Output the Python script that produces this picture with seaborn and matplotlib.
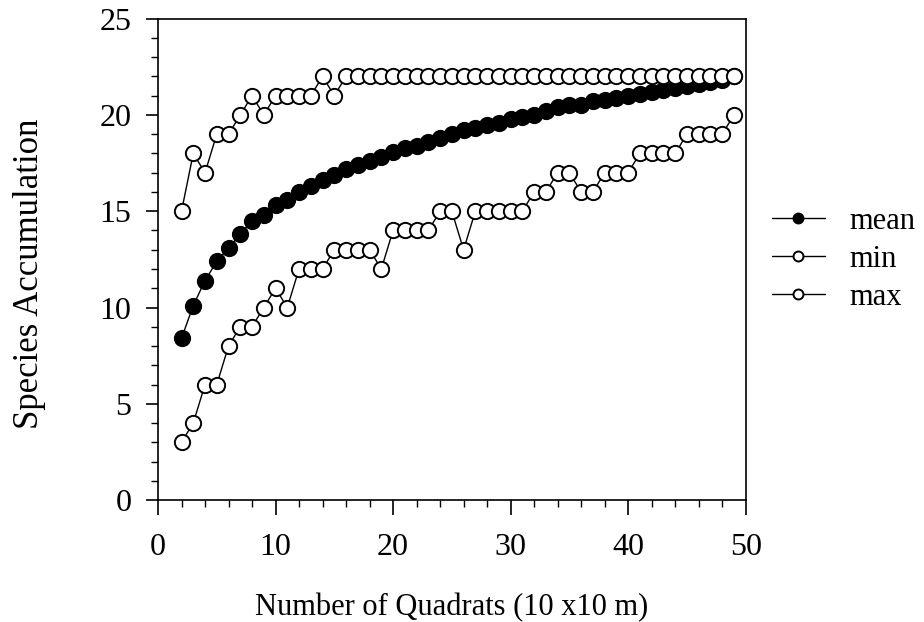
import numpy as np
import pandas as pd
import seaborn as sns
import matplotlib.pyplot as plt
from matplotlib.ticker import MultipleLocator

# number of quadrats sampled
quadrats = list(range(2, 50))

mean_acc = [8.4, 10.1, 11.4, 12.4, 13.1, 13.8, 14.5, 14.8, 15.3, 15.6,
            16.0, 16.3, 16.6, 16.9, 17.2, 17.4, 17.6, 17.8, 18.1, 18.3,
            18.4, 18.6, 18.8, 19.0, 19.2, 19.3, 19.5, 19.6, 19.8, 19.9,
            20.0, 20.2, 20.4, 20.5, 20.5, 20.7, 20.8, 20.9, 21.0, 21.1,
            21.2, 21.3, 21.4, 21.5, 21.6, 21.7, 21.8, 22.0]

min_acc = [3, 4, 6, 6, 8, 9, 9, 10, 11, 10,
           12, 12, 12, 13, 13, 13, 13, 12, 14, 14,
           14, 14, 15, 15, 13, 15, 15, 15, 15, 15,
           16, 16, 17, 17, 16, 16, 17, 17, 17, 18,
           18, 18, 18, 19, 19, 19, 19, 20]

max_acc = [15, 18, 17, 19, 19, 20, 21, 20, 21, 21,
           21, 21, 22, 21, 22, 22, 22, 22, 22, 22,
           22, 22, 22, 22, 22, 22, 22, 22, 22, 22,
           22, 22, 22, 22, 22, 22, 22, 22, 22, 22,
           22, 22, 22, 22, 22, 22, 22, 22]

df = pd.DataFrame({'n': quadrats * 3,
                   'species': mean_acc + min_acc + max_acc,
                   'stat': ['mean'] * 48 + ['min'] * 48 + ['max'] * 48})

sns.set_style("ticks")
plt.rcParams['font.family'] = ['Liberation Serif', 'DejaVu Serif']
plt.rcParams['text.color'] = 'black'
plt.rcParams['axes.labelcolor'] = 'black'

fig = plt.figure(figsize=(9.24, 6.22), dpi=100)
ax = fig.add_axes([0.171, 0.196, 0.636, 0.774])

faces = {'mean': 'black', 'min': 'white', 'max': 'white'}
for stat in ['mean', 'min', 'max']:
    sub = df[df['stat'] == stat]
    sns.lineplot(data=sub, x='n', y='species', ax=ax, color='black',
                 linewidth=1.0, marker='o', markersize=11,
                 markerfacecolor=faces[stat], markeredgecolor='black',
                 markeredgewidth=1.4, label=stat)

ax.set_xlim(0, 50)
ax.set_ylim(0, 25)
ax.xaxis.set_major_locator(MultipleLocator(10))
ax.xaxis.set_minor_locator(MultipleLocator(2))
ax.yaxis.set_major_locator(MultipleLocator(5))
ax.yaxis.set_minor_locator(MultipleLocator(1))
ax.tick_params(which='major', direction='out', width=1.2,
               labelsize=23, colors='black')
ax.tick_params(axis='x', which='major', length=11, pad=13)
ax.tick_params(axis='y', which='major', length=9, pad=10)
ax.tick_params(which='minor', direction='out', length=5, width=1.0,
               colors='black')
for s in ax.spines.values():
    s.set_visible(True)
    s.set_linewidth(1.2)
    s.set_color('black')

ax.set_xlabel('Number of Quadrats (10 x10 m)', fontsize=22, labelpad=22)
ax.set_ylabel('Species Accumulation', fontsize=25)
ax.yaxis.set_label_coords(-0.19, 0.47)

leg = ax.legend(loc='center left', bbox_to_anchor=(1.0, 0.5), frameon=False,
                fontsize=22, handlelength=1.75, markerscale=0.65,
                labelspacing=0.3, handletextpad=0.8, borderaxespad=0.45)

fig.savefig('out.png', dpi=100)
